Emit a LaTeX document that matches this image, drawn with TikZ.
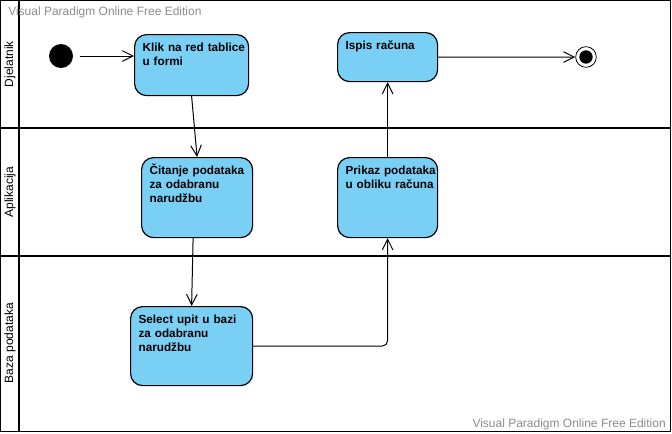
\documentclass[tikz,border=0pt]{standalone}
\usepackage{fontspec}
\setmainfont{Liberation Sans}
\usetikzlibrary{arrows.meta}
\definecolor{vpplava}{HTML}{7ACFF5}
\definecolor{vpsiva}{HTML}{8C8C8C}

\begin{document}
\begin{tikzpicture}[x=0.75pt,y=-0.75pt,
  akcija/.style={draw=black, line width=0.9pt, fill=vpplava, rounded corners=9pt, anchor=north west, align=left, inner xsep=6pt, inner ysep=6.5pt, text height=6.5pt, font=\fontsize{8.8}{10.4}\selectfont\bfseries},
  strelica/.style={line width=0.75pt, -{Straight Barb[length=8pt,width=8pt]}},
  staza/.style={line width=1.5pt},
  oznaka/.style={rotate=90, font=\fontsize{9}{11}\selectfont},
  vodeni/.style={text=vpsiva, font=\fontsize{9}{11}\selectfont, inner sep=0pt}]
\useasboundingbox (0,0) rectangle (672,433);
\draw [line width=1pt] (0.5,0.5) rectangle (670.5,431.5);
\draw [staza] (19,0) -- (19,432);
\draw [staza] (0,128) -- (671,128);
\draw [staza] (0,256) -- (671,256);
\node [oznaka] (djelatnik) at (10,64) {Djelatnik};
\node [oznaka] (aplikacija) at (10,192) {Aplikacija};
\node [oznaka] (baza) at (10,343) {Baza podataka};
\node [vodeni, anchor=base west] (vp1) at (8,15) {Visual Paradigm Online Free Edition};
\node [vodeni, anchor=base east] (vp2) at (666,427) {Visual Paradigm Online Free Edition};
\node [circle, fill=black, minimum size=18pt, inner sep=0pt] (pocetak) at (61,56) {};
\node [circle, draw=black, line width=0.6pt, minimum size=15.5pt, inner sep=0pt, path picture={\fill [black] (path picture bounding box.center) circle (5pt);}] (kraj) at (586,57) {};
\node [akcija, text width=73.5pt, text depth=26.25pt] (klik) at (134,34) {\mbox{Klik na red tablice}\\u formi};
\node [akcija, text width=71.25pt, text depth=40.5pt] (citanje) at (141,157) {Čitanje podataka\\za odabranu\\narudžbu};
\node [akcija, text width=79.5pt, text depth=39.75pt] (select) at (130,306) {Select upit u bazi\\za odabranu\\narudžbu};
\node [akcija, text width=63pt, text depth=40.5pt] (prikaz) at (337,157) {\mbox{Prikaz podataka}\\\mbox{u obliku računa}};
\node [akcija, text width=63pt, text depth=17.25pt] (ispis) at (337,32) {Ispis računa};
\draw [strelica, shorten <=5pt] (pocetak) -- (klik.west |- pocetak);
\draw [strelica] (klik.south) -- (citanje.north);
\draw [strelica] ([xshift=-3pt]citanje.south) -- (select.north);
\draw [strelica, rounded corners=4pt] (select.east) -| (prikaz.south);
\draw [strelica] (prikaz.north) -- (ispis.south);
\draw [strelica] (ispis.east) -- (kraj);
\end{tikzpicture}
\end{document}
